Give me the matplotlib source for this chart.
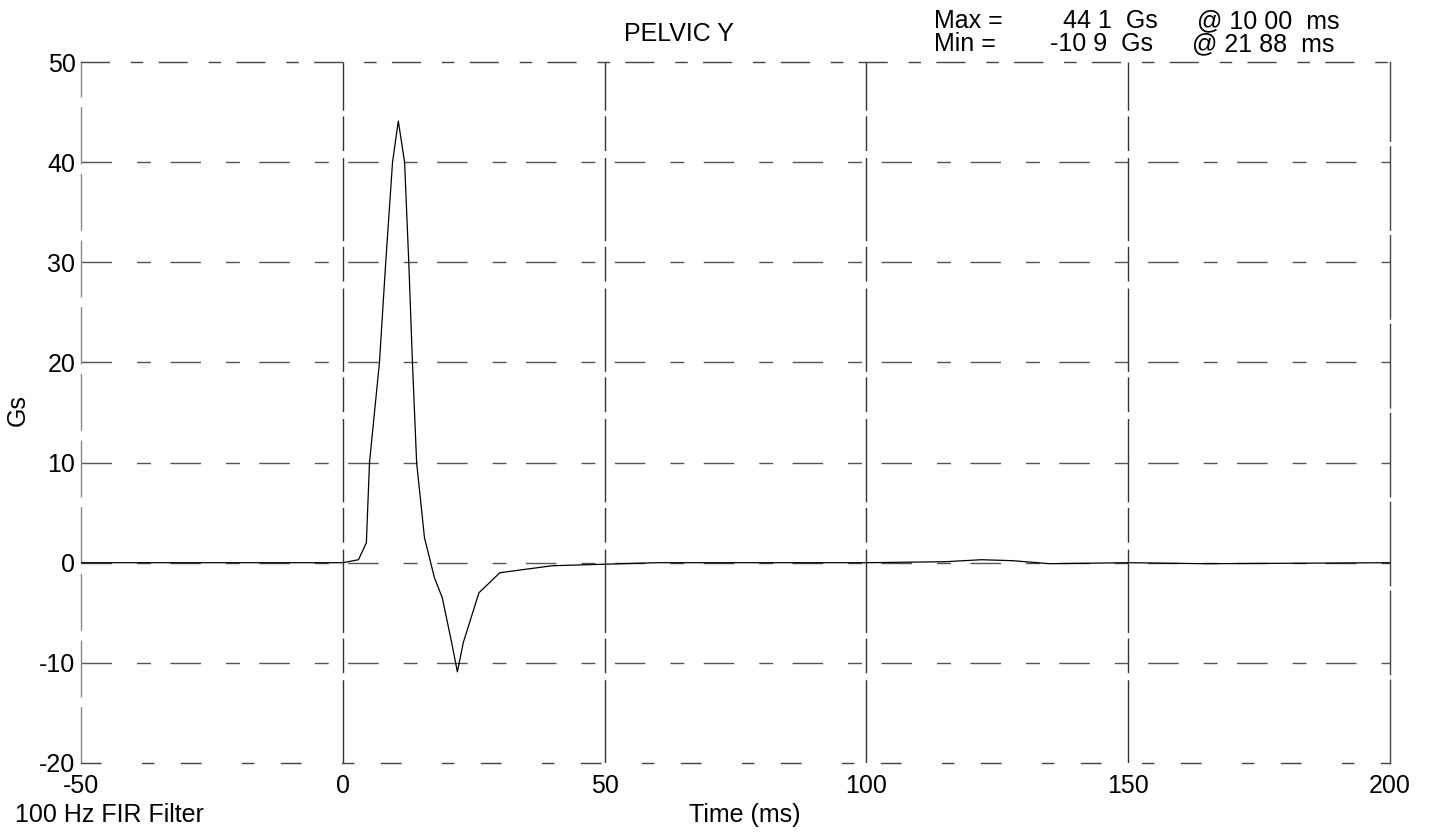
import matplotlib
matplotlib.use("Agg")
import matplotlib.pyplot as plt

plt.rcParams['font.family'] = ['Liberation Sans', 'DejaVu Sans']
plt.rcParams['axes.unicode_minus'] = False

# Data
time_ms = [-50, -30, -10, 0, 3, 4.5, 5.1, 7.0, 8.2, 9.5, 10.6, 11.8, 12.6, 13.3, 14.1,
           15.6, 17.5, 19.0, 20.8, 21.88, 23, 26, 30, 40, 60, 80, 100, 115, 122, 128,
           135, 150, 165, 200]
accel_g = [0, 0, 0, 0, 0.3, 2, 10, 20, 30, 40, 44.1, 40, 30, 20, 10,
           2.5, -1.5, -3.5, -8, -10.9, -8, -3, -1, -0.3, 0, 0, 0, 0.1, 0.3, 0.2,
           -0.1, 0, -0.1, 0]

x_ticks = [-50, 0, 50, 100, 150, 200]
y_ticks = [-20, -10, 0, 10, 20, 30, 40, 50]
grid_x = [0, 50, 100, 150]
grid_y = [-10, 0, 10, 20, 30, 40]

title = "PELVIC Y"
max_label, max_val, max_at = "Max =", "44 1  Gs", "@ 10 00  ms"
min_label, min_val, min_at = "Min =", "-10 9  Gs", "@ 21 88  ms"

FS = 18

fig = plt.figure(figsize=(14.31, 8.32), dpi=100)
ax = fig.add_axes([81/1431, 1-763/832, (1390-81)/1431, (763-62)/832])

ax.set_xlim(-50, 200)
ax.set_ylim(-20, 50)
ax.set_xticks(x_ticks)
ax.set_yticks(y_ticks)
ax.tick_params(axis='both', length=0, labelsize=FS, colors='black')
ax.tick_params(axis='x', pad=8)
ax.tick_params(axis='y', pad=4)

for gx in grid_x:
    ax.axvline(gx, color='#333333', lw=1.0, ls=(0, (60, 5, 25, 4)), zorder=1)
for gy in grid_y:
    ax.axhline(gy, color='#555555', lw=1.0, ls=(0, (22, 18, 10, 14)), zorder=1)

for side, sp in ax.spines.items():
    sp.set_linewidth(1.0)
    sp.set_color('#444444')
ax.spines['top'].set_linestyle((0, (20, 16, 8, 12)))
ax.spines['bottom'].set_linestyle((0, (14, 30, 8, 20)))
ax.spines['left'].set_linestyle((0, (40, 8)))
ax.spines['left'].set_color('#888888')
ax.spines['right'].set_linestyle((0, (60, 4)))

ax.plot(time_ms, accel_g, color='black', lw=0.9, zorder=3)

fig.text(679/1431, 1-34/832, title, ha='center', va='center', fontsize=FS)
fig.text(934/1431, 1-21/832, max_label, ha='left', va='center', fontsize=FS)
fig.text(1158/1431, 1-21/832, max_val, ha='right', va='center', fontsize=FS)
fig.text(1197/1431, 1-21/832, max_at, ha='left', va='center', fontsize=FS)
fig.text(934/1431, 1-44/832, min_label, ha='left', va='center', fontsize=FS)
fig.text(1153/1431, 1-44/832, min_val, ha='right', va='center', fontsize=FS)
fig.text(1192/1431, 1-44/832, min_at, ha='left', va='center', fontsize=FS)

fig.text(15/1431, 1-815/832, "100 Hz FIR Filter", ha='left', va='center', fontsize=FS)
fig.text(745/1431, 1-815/832, "Time (ms)", ha='center', va='center', fontsize=FS)
fig.text(18/1431, 1-410/832, "Gs", ha='center', va='center', fontsize=FS, rotation=90)

fig.savefig("out.png", dpi=100)
